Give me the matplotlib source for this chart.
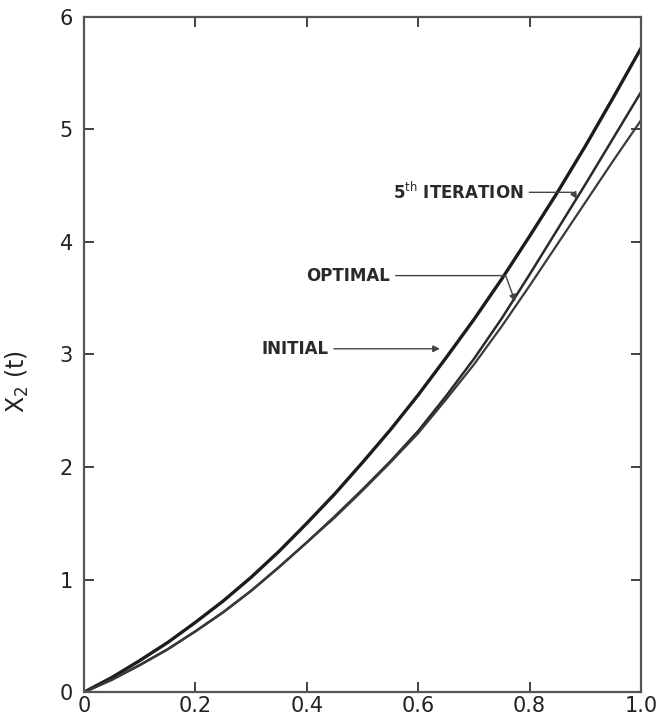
import matplotlib
matplotlib.use("Agg")
import matplotlib.pyplot as plt

# time axis and the three trajectories of x2(t)
t = [0.0, 0.05, 0.1, 0.15, 0.2, 0.25, 0.3, 0.35, 0.4, 0.45, 0.5,
     0.55, 0.6, 0.65, 0.7, 0.75, 0.8, 0.85, 0.9, 0.95, 1.0]
initial = [0.0, 0.13, 0.28, 0.44, 0.62, 0.81, 1.02, 1.25, 1.50, 1.76, 2.04,
           2.33, 2.64, 2.97, 3.31, 3.67, 4.05, 4.44, 4.85, 5.28, 5.72]
iter5 = [0.0, 0.11, 0.24, 0.38, 0.54, 0.71, 0.90, 1.11, 1.33, 1.56, 1.80,
         2.05, 2.32, 2.63, 2.96, 3.32, 3.71, 4.11, 4.51, 4.92, 5.33]
optimal = [0.0, 0.11, 0.24, 0.38, 0.54, 0.71, 0.90, 1.11, 1.33, 1.55, 1.79,
           2.04, 2.30, 2.60, 2.91, 3.25, 3.61, 3.98, 4.35, 4.72, 5.08]

xticks = [0, 0.2, 0.4, 0.6, 0.8, 1.0]
xticklabels = ["0", "0.2", "0.4", "0.6", "0.8", "1.0"]
yticks = [0, 1, 2, 3, 4, 5, 6]

fig = plt.figure(figsize=(6.67, 7.27), dpi=100)
ax = fig.add_axes([0.126, 0.048, 0.835, 0.929])

ax.plot(t, initial, color="#1c1c1c", lw=2.4, solid_capstyle="round")
ax.plot(t, iter5, color="#2a2a2a", lw=1.8, solid_capstyle="round")
ax.plot(t, optimal, color="#3a3a3a", lw=1.6, solid_capstyle="round")

ax.set_xlim(0, 1.0)
ax.set_ylim(0, 6)
ax.set_xticks(xticks)
ax.set_xticklabels(xticklabels)
ax.set_yticks(yticks)
ax.tick_params(direction="in", length=7, width=1.3, color="#333333",
               labelsize=15, top=True, right=True)
ax.tick_params(axis="x", pad=3)
ax.tick_params(axis="y", pad=8)
for lbl in ax.get_xticklabels() + ax.get_yticklabels():
    lbl.set_color("#222222")
for s in ax.spines.values():
    s.set_color("#555555")
    s.set_linewidth(1.6)

ax.set_ylabel(r"X$_2$ (t)", fontsize=17, color="#222222")
ax.yaxis.set_label_coords(-0.095, 0.46)

label_kw = dict(fontsize=12, fontweight="bold", color="#2a2a2a",
                va="center", ha="left")
arrow_kw = dict(arrowstyle="-|>", color="#444444", lw=1.0,
                mutation_scale=10, shrinkA=2, shrinkB=0)

ax.annotate("5$^{\\rm th}$ ITERATION", xy=(0.885, 4.38), xytext=(0.555, 4.44),
            arrowprops=dict(connectionstyle="angle,angleA=0,angleB=120,rad=0",
                            **arrow_kw), **label_kw)
ax.annotate("OPTIMAL", xy=(0.774, 3.47), xytext=(0.399, 3.70),
            arrowprops=dict(connectionstyle="angle,angleA=0,angleB=110,rad=0",
                            **arrow_kw), **label_kw)
ax.annotate("INITIAL", xy=(0.639, 3.05), xytext=(0.318, 3.05),
            arrowprops=arrow_kw, **label_kw)

fig.savefig("out.png", dpi=100)
